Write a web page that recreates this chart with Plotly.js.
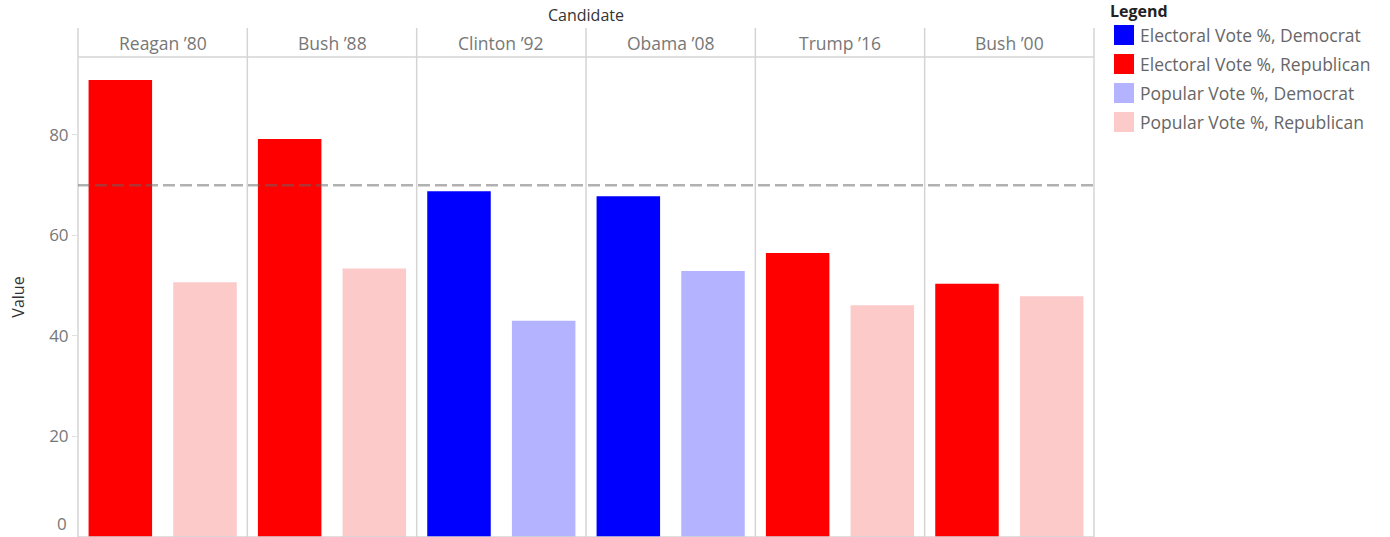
<!DOCTYPE html>
<html>
<head>
<meta charset="utf-8">
<script src="https://cdn.plot.ly/plotly-3.0.1.min.js"></script>
<style>html,body{margin:0;padding:0;background:#fff;}#chart{width:1390px;height:537px;}</style>
</head>
<body>
<div id="chart"></div>
<script>
const candidates = ["Reagan \u201980", "Bush \u201988", "Clinton \u201992", "Obama \u201908", "Trump \u201916", "Bush \u201900"];
const parties = ["Republican", "Republican", "Democrat", "Democrat", "Republican", "Republican"];
const electoralVote = [90.9, 79.2, 68.8, 67.8, 56.5, 50.4];
const popularVote = [50.7, 53.4, 43.0, 52.9, 46.1, 47.9];
const measures = ["Electoral Vote %", "Popular Vote %"];
const referenceLine = 70;
const yTicks = [0, 20, 40, 60, 80];
const legendItems = ["Electoral Vote %, Democrat", "Electoral Vote %, Republican", "Popular Vote %, Democrat", "Popular Vote %, Republican"];
const colors = {
  "Electoral Vote %, Democrat": "#0000ff",
  "Electoral Vote %, Republican": "#ff0000",
  "Popular Vote %, Democrat": "#b3b3ff",
  "Popular Vote %, Republican": "#fdcaca"
};

const W = 1390, H = 537;
const L = 78, R = 1094, T = 57, B = 537;
const plotW = R - L, plotH = B - T;
const px2x = p => (p - L) / plotW;
const py2y = p => (B - p) / plotH;

const FONT = "'Open Sans', sans-serif";
const n = candidates.length;
const traces = [];
const layout = {
  width: W, height: H,
  margin: {l: L, r: W - R, t: T, b: H - B},
  paper_bgcolor: "#fff", plot_bgcolor: "#fff",
  showlegend: false,
  bargap: 0.25,
  font: {family: FONT, color: "#777"},
  yaxis: {
    range: [0, 95.5], tickvals: yTicks.slice(1), ticks: "outside", ticklen: 5, tickcolor: "#e0e0e0",
    showgrid: false, zeroline: false, showline: false,
    tickfont: {size: 17, color: "#777", family: FONT},
    title: {text: "Value", font: {size: 16, color: "#333", family: FONT}, standoff: 20}
  },
  shapes: [], annotations: []
};

candidates.forEach((c, i) => {
  const axName = i === 0 ? "xaxis" : "xaxis" + (i + 1);
  const xref = i === 0 ? "x" : "x" + (i + 1);
  layout[axName] = {
    domain: [i / n, (i + 1) / n], anchor: "y", type: "category",
    categoryorder: "array", categoryarray: measures,
    showticklabels: false, ticks: "", showgrid: false, zeroline: false, showline: false, fixedrange: true
  };
  traces.push({
    type: "bar", xaxis: xref, yaxis: "y",
    x: measures, y: [electoralVote[i], popularVote[i]],
    marker: {color: measures.map(m => colors[m + ", " + parties[i]]), line: {width: 0}},
    name: c
  });
  layout.annotations.push({
    xref: "paper", yref: "paper", x: (i + 0.5) / n, y: py2y(43), xanchor: "center", yanchor: "middle",
    text: c, showarrow: false, font: {size: 17.5, color: "#777", family: FONT}
  });
});

// panel separators and frame
const topY = py2y(28);
for (let i = 0; i <= n; i++) {
  layout.shapes.push({type: "line", xref: "paper", yref: "paper", x0: i / n, x1: i / n, y0: 0, y1: topY,
    line: {color: "#d4d4d4", width: 1.5}, layer: "above"});
}
layout.shapes.push({type: "line", xref: "paper", yref: "paper", x0: 0, x1: 1, y0: 1, y1: 1, line: {color: "#d4d4d4", width: 1.5}});
layout.shapes.push({type: "line", xref: "paper", yref: "paper", x0: 0, x1: 1, y0: 0, y1: 0, line: {color: "#d4d4d4", width: 1.5}});
// reference line
layout.shapes.push({type: "line", xref: "paper", yref: "y", x0: 0, x1: 1, y0: referenceLine, y1: referenceLine,
  line: {color: "rgba(100,100,100,0.5)", width: 2.5, dash: "12px,5px"}, layer: "above"});

// "0" label (shifted up as in reference)
layout.annotations.push({xref: "paper", yref: "y", x: px2x(69), y: 0, xanchor: "right", yanchor: "bottom",
  text: "0", showarrow: false, font: {size: 17, color: "#777", family: FONT}});

// column header title
layout.annotations.push({xref: "paper", yref: "paper", x: 0.5, y: py2y(15), xanchor: "center", yanchor: "middle",
  text: "Candidate", showarrow: false, font: {size: 16, color: "#333", family: FONT}});

// legend
layout.annotations.push({xref: "paper", yref: "paper", x: px2x(1108), y: py2y(11), xanchor: "left", yanchor: "middle",
  text: "<b>Legend</b>", showarrow: false, font: {size: 16, color: "#222", family: FONT}});
legendItems.forEach((item, k) => {
  const cy = 35 + k * 29;
  layout.shapes.push({type: "rect", xref: "paper", yref: "paper", x0: px2x(1114), x1: px2x(1134), y0: py2y(cy + 10), y1: py2y(cy - 10),
    fillcolor: colors[item], line: {width: 0}});
  layout.annotations.push({xref: "paper", yref: "paper", x: px2x(1138), y: py2y(cy), xanchor: "left", yanchor: "middle",
    text: item, showarrow: false, font: {size: 17.5, color: "#666", family: FONT}});
});

Plotly.newPlot("chart", traces, layout, {displayModeBar: false, staticPlot: true});
</script>
</body>
</html>
